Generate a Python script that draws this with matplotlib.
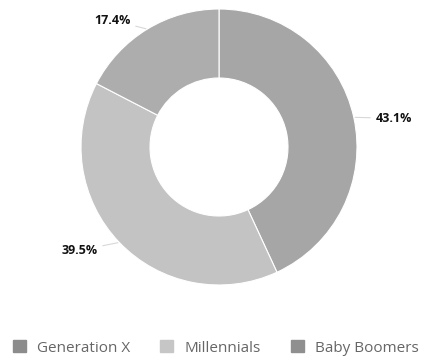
import numpy as np
import matplotlib.pyplot as plt
from matplotlib.patches import Patch

plt.rcParams['font.family'] = ['Open Sans', 'DejaVu Sans']

labels = ["Generation X", "Millennials", "Baby Boomers"]
shares = [43.1, 39.5, 17.4]
colors = ["#a6a6a6", "#c3c3c3", "#adadad"]
legend_colors = ["#8c8c8c", "#c6c6c6", "#8f8f8f"]
# label text offsets (pixels) from the wedge's outer edge
offsets = [(22, -1), (-22, -8), (-17, 9)]
aligns = ["left", "right", "right"]

fig = plt.figure(figsize=(4.23, 3.6), dpi=100)
R = 138
cx, cy = 219, 147
ax = fig.add_axes([(cx - R) / 423, (360 - cy - R) / 360, 2 * R / 423, 2 * R / 360])

wedges, _ = ax.pie(shares, colors=colors, startangle=90, counterclock=False,
                   radius=1, wedgeprops=dict(width=0.5, edgecolor="white", linewidth=0.8))
ax.set_xlim(-1, 1)
ax.set_ylim(-1, 1)

for w, val, off, ha in zip(wedges, shares, offsets, aligns):
    ang = np.deg2rad((w.theta1 + w.theta2) / 2)
    x, y = np.cos(ang), np.sin(ang)
    ax.annotate(f"{val}%", xy=(x, y), xytext=off, textcoords="offset pixels",
                ha=ha, va="center", fontsize=9, fontweight="bold", color="#111111",
                arrowprops=dict(arrowstyle="-", color="#d8d8d8", lw=0.8,
                                shrinkA=2, shrinkB=1),
                annotation_clip=False)

handles = [Patch(facecolor=c, edgecolor=c) for c in legend_colors]
leg = fig.legend(handles, labels, loc="center", bbox_to_anchor=(0.51, 1 - 348 / 360),
                 ncol=3, frameon=False, fontsize=11, handlelength=0.85, handleheight=0.85,
                 columnspacing=2.0, handletextpad=0.7, labelcolor="#666666")

fig.savefig("out.png", dpi=100)
